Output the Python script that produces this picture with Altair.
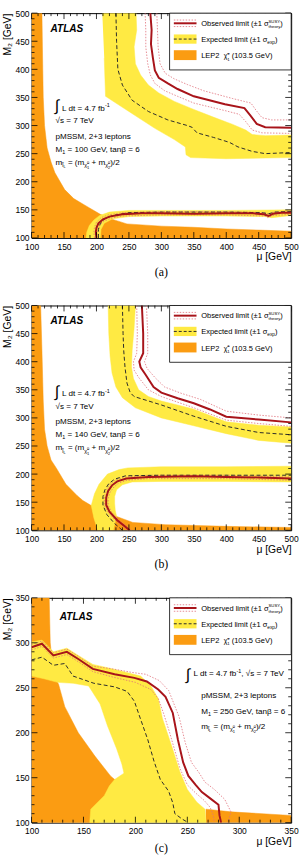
import altair as alt
import pandas as pd

FONT = "Liberation Sans"
ORANGE = "#FB9C12"
YELLOW = "#FFEA43"
RED = "#A8141A"
PINK = "#E0707A"
DASH = "#2b2b2b"

W, H = 263.3, 228.0

# ---------------- (a) M1 = 100 GeV ----------------
A_LEP_MU = [100, 116, 117, 118, 120, 124, 130, 136, 151, 165, 184, 206, 225, 247, 300, 349, 400, 450, 500, 500, 100]
A_LEP_M2 = [500, 500, 420, 350, 300, 260, 235, 216, 186, 170, 157, 142, 133, 125, 121, 119, 116, 114, 112, 100, 100]

A_YEL_UP_MU = [209, 261, 262, 258, 260, 268, 280, 296, 320, 347, 380, 410, 430, 440, 460, 500, 500, 400, 345, 338, 337, 320, 290, 250, 214, 212]
A_YEL_UP_M2 = [500, 500, 470, 440, 410, 390, 372, 358, 343, 330, 315, 302, 292, 284, 282, 283, 243, 241, 243, 248, 262, 275, 295, 325, 352, 420]
A_YEL_LO_MU = [184, 185, 189, 196, 205, 220, 250, 300, 400, 500, 500, 470, 460, 400, 300, 250, 225, 212, 207, 206]
A_YEL_LO_M2 = [100, 110, 122, 132, 140, 146, 149, 149, 149, 150, 140, 136, 138, 139, 139, 138, 134, 126, 115, 100]

A_EXP_UP_MU = [230, 231, 233, 240, 255, 280, 310, 340, 347, 355, 380, 405, 418, 440, 460, 500]
A_EXP_UP_M2 = [500, 450, 400, 372, 345, 325, 310, 300, 297, 287, 279, 270, 262, 254, 250, 252]
A_EXP_LO_MU = [203, 203, 206, 213, 225, 250, 300, 400, 455, 465, 475, 500]
A_EXP_LO_M2 = [100, 115, 126, 134, 140, 145, 146, 146, 145, 143, 146, 147]

A_OBS_UP_MU = [283, 285, 284, 287, 290, 296, 310, 325, 350, 398, 428, 437, 447, 460, 500]
A_OBS_UP_M2 = [500, 470, 445, 420, 398, 385, 375, 365, 352, 338, 331, 318, 303, 297, 296]
A_OBS_LO_MU = [200, 199, 200, 203, 210, 220, 240, 270, 300, 350, 400, 440, 458, 465, 472, 485, 500]
A_OBS_LO_M2 = [100, 110, 118, 126, 133, 138, 142, 144, 144, 143, 144, 144, 142, 139, 143, 145, 145]

A_THP_UP_MU = [293, 294, 295, 298, 306, 320, 340, 365, 410, 438, 446, 455, 470, 500]
A_THP_UP_M2 = [500, 470, 440, 410, 393, 383, 373, 362, 348, 340, 327, 314, 310, 310]
A_THM_UP_MU = [275, 276, 276, 279, 283, 290, 305, 325, 350, 400, 420, 430, 440, 455, 500]
A_THM_UP_M2 = [500, 470, 440, 410, 390, 375, 362, 352, 340, 326, 320, 307, 292, 287, 286]
A_THP_LO_MU = [197, 196, 197, 200, 207, 218, 240, 300, 400, 460, 466, 472, 500]
A_THP_LO_M2 = [100, 110, 119, 128, 136, 141, 145, 147, 147, 145, 142, 146, 148]
A_THM_LO_MU = [203, 202, 203, 206, 212, 222, 240, 300, 400, 460, 464, 472, 500]
A_THM_LO_M2 = [100, 110, 117, 124, 130, 135, 139, 141, 141, 139, 136, 140, 142]

# ---------------- (b) M1 = 140 GeV ----------------
B_LEP_MU = [100, 114, 116, 118, 120, 124, 130, 138, 153, 170, 179, 192, 215, 230, 256, 306, 400, 500, 500, 100]
B_LEP_M2 = [500, 500, 420, 330, 280, 250, 225, 211, 182, 162, 153, 144, 133, 125, 114, 110, 107, 105, 100, 100]

B_YEL_UP_MU = [218, 219, 221, 224, 230, 240, 260, 300, 350, 400, 450, 500, 500, 450, 400, 349, 300, 280, 265, 257, 254, 255, 258, 260]
B_YEL_UP_M2 = [500, 450, 410, 380, 355, 336, 318, 300, 286, 272, 260, 255, 284, 287, 293, 316, 330, 338, 350, 370, 390, 420, 460, 500]
B_YEL_LO_MU = [202, 196, 192, 197, 204, 217, 235, 248, 300, 400, 500, 500, 400, 300, 255, 240, 231, 228, 228, 229, 231, 229, 226]
B_YEL_LO_M2 = [100, 122, 144, 165, 182, 200, 208, 211, 213, 213, 214, 186, 187, 187, 186, 181, 172, 160, 148, 135, 125, 115, 100]

B_EXP_UP_MU = [240, 241, 242, 244, 247, 252, 258, 300, 350, 400, 450, 500]
B_EXP_UP_M2 = [500, 450, 420, 390, 362, 345, 338, 323, 303, 285, 274, 270]
B_EXP_LO_MU = [240, 228, 216, 210, 210, 213, 219, 228, 245, 300, 400, 500]
B_EXP_LO_M2 = [100, 112, 128, 145, 160, 172, 183, 191, 197, 198, 198, 198]

B_OBS_UP_MU = [270, 272, 272, 266, 268, 275, 288, 300, 325, 350, 375, 400, 450, 500]
B_OBS_UP_M2 = [500, 450, 415, 400, 390, 378, 355, 345, 335, 326, 315, 302, 297, 292]
B_OBS_LO_MU = [251, 245, 232, 220, 215, 215, 218, 224, 232, 246, 280, 350, 400, 450, 500]
B_OBS_LO_M2 = [100, 106, 118, 133, 145, 158, 170, 180, 187, 192, 195, 196, 195, 194, 192]

B_THP_UP_MU = [277, 279, 279, 274, 278, 290, 305, 330, 360, 400, 450, 500]
B_THP_UP_M2 = [500, 450, 415, 400, 388, 372, 355, 344, 333, 312, 305, 300]
B_THM_UP_MU = [262, 263, 262, 257, 258, 265, 280, 300, 350, 400, 450, 500]
B_THM_UP_M2 = [500, 450, 415, 400, 385, 372, 350, 338, 318, 296, 290, 285]
B_THP_LO_MU = [248, 242, 229, 217, 212, 212, 215, 221, 230, 245, 280, 400, 500]
B_THP_LO_M2 = [100, 106, 118, 133, 145, 158, 171, 182, 190, 195, 198, 198, 195]
B_THM_LO_MU = [254, 248, 235, 223, 218, 218, 221, 227, 234, 247, 280, 400, 500]
B_THM_LO_M2 = [100, 106, 118, 133, 145, 157, 168, 177, 184, 189, 192, 192, 189]

# ---------------- (c) M1 = 250 GeV ----------------
C_LEP_MU = [100, 117, 118, 120, 124, 126, 132, 145, 161, 176, 182, 180, 170, 165, 100]
C_LEP_M2 = [350, 350, 300, 278, 258, 254, 229, 200, 174, 152, 146, 130, 115, 100, 100]
C_LEP2_MU = [268, 268, 292, 350, 350]
C_LEP2_M2 = [100, 115, 112, 108, 100]

C_YEL_MU = [100, 110, 121, 134, 145, 159, 178, 205, 215, 222, 226, 235, 243, 250, 259, 267, 268, 156, 157,
            170, 175, 180, 189, 187, 182, 173, 166, 155, 140, 125, 112, 100]
C_YEL_M2 = [301, 303, 290, 294, 286, 276, 271, 263, 252, 238, 216, 185, 156, 137, 123, 115, 100, 100, 115,
            130, 141, 148, 155, 165, 182, 208, 232, 252, 255, 256, 260, 263]

C_EXP_MU = [100, 110, 121, 132, 140, 160, 180, 192, 199, 205, 212, 218, 224, 232, 236, 238, 245, 251]
C_EXP_M2 = [281, 284, 275, 277, 263, 255, 251, 246, 235, 215, 192, 168, 148, 135, 122, 110, 104, 100]

C_OBS_MU = [100, 110, 121, 134, 145, 159, 180, 199, 211, 222, 229, 236, 241, 246, 251, 258, 264, 272, 280, 281, 282.5]
C_OBS_M2 = [295, 299, 286, 290, 282, 271, 265, 261, 257, 248, 240, 222, 192, 167, 152, 142, 134, 127, 120, 108, 100]

C_THP_MU = [100, 110, 121, 134, 145, 159, 178, 197, 210, 223, 232, 242, 248, 254, 261, 267, 276, 286, 292, 289]
C_THP_M2 = [298, 302, 289, 293, 285, 274, 271, 267, 265, 258, 247, 218, 189, 167, 156, 145, 137, 126, 112, 100]
C_THM_MU = [100, 110, 121, 134, 145, 159, 178, 200, 215, 222, 227, 233, 238, 243, 250, 258, 266, 272, 275, 276]
C_THM_M2 = [292, 296, 283, 287, 279, 268, 262, 256, 248, 238, 222, 200, 180, 160, 142, 133, 125, 117, 108, 100]


# glyph advance widths (per 1000 em) for laying out composed labels
ADV = {" ": 278, "(": 333, ")": 333, "+": 584, "=": 584, "/": 278, ".": 278, ",": 278, "±": 584, "-": 333,
       "a": 556, "b": 556, "c": 500, "d": 556, "e": 556, "f": 278, "g": 556, "h": 556, "i": 222, "l": 222,
       "m": 833, "n": 556, "o": 556, "p": 556, "r": 333, "s": 500, "t": 278, "u": 556, "v": 500, "x": 500,
       "y": 500, "A": 667, "D": 722, "E": 667, "G": 778, "L": 556, "M": 833, "O": 778, "P": 667, "S": 667,
       "T": 611, "U": 722, "V": 667, "Y": 667, "σ": 572, "χ": 520, "β": 556, "√": 549, "∫": 274, "\u0303": 0}


def text_width(s, size):
    return sum(ADV.get(c, 556) for c in s) * size / 1000.0


def runs(x, y, parts):
    """Lay out text pieces (text, size, dy, advance) left to right from pixel (x, y).
    Leading/trailing blanks are turned into offsets, since SVG text drops them."""
    rows = []
    for p in parts:
        t, s = p[0], p[1]
        dy = p[2] if len(p) > 2 else 0
        adv = p[3] if len(p) > 3 else True
        lead = len(t) - len(t.lstrip(" "))
        rows.append({"x": x + text_width(t[:lead], s), "y": y + dy, "t": t.strip(" "), "s": s})
        if adv:
            x += text_width(t, s)
    return rows


def poly_df(*shapes):
    rows = []
    for g, (xs, ys) in enumerate(shapes):
        for i, (x, y) in enumerate(zip(xs, ys)):
            rows.append({"g": g, "i": i, "mu": x, "m2": y})
    return pd.DataFrame(rows)


ONE = pd.DataFrame({"k": [0]})


def mass_line(x0, y, big=8.2, sub=5.5, tiny=4.0):
    return runs(x0, y, [("m", big), ("l\u0303", sub, 2.2), ("L", tiny, 3.5), (" = (m", big),
                        ("χ\u0303", sub, 2.2), ("0", tiny, -0.8, False), ("1", tiny, 4.2), (" + m", big),
                        ("χ\u0303", sub, 2.2), ("0", tiny, -0.8, False), ("2", tiny, 4.2), (")/2", big)])


def legend_rows():
    rows = []
    rows += runs(172, 12.9, [("Observed limit (±1 σ", 7.6), ("SUSY", 4.3, -3.2, False), ("theory", 4.3, 2.2), (")", 7.6)])
    rows += runs(172, 29.2, [("Expected limit (±1 σ", 7.6), ("exp", 4.8, 2.0), (")", 7.6)])
    rows += runs(172, 45.9, [("LEP2  ", 7.6), ("χ\u0303", 7.0), ("±", 4.3, -3.6, False), ("1", 4.3, 2.2),
                             (" (103.5 GeV)", 7.6)])
    return rows


def legend_marks():
    box = alt.Chart(ONE).mark_rect(fill="white", stroke="black", strokeWidth=0.8).encode(
        x=alt.value(140), x2=alt.value(W), y=alt.value(0), y2=alt.value(57.6))
    sx, sx2 = 144.3, 167.3
    obs = alt.Chart(ONE).mark_rule(color=RED, strokeWidth=2).encode(
        x=alt.value(sx), x2=alt.value(sx2), y=alt.value(10.3))
    dots = [alt.Chart(ONE).mark_rule(color=PINK, strokeWidth=0.8, strokeDash=[1.5, 1.5]).encode(
        x=alt.value(sx), x2=alt.value(sx2), y=alt.value(v)) for v in (7.0, 13.6)]
    band = alt.Chart(ONE).mark_rect(fill=YELLOW).encode(
        x=alt.value(sx), x2=alt.value(sx2), y=alt.value(21.6), y2=alt.value(31.0))
    dline = alt.Chart(ONE).mark_rule(color=DASH, strokeWidth=1, strokeDash=[3, 2]).encode(
        x=alt.value(sx), x2=alt.value(sx2), y=alt.value(26.3))
    lep = alt.Chart(ONE).mark_rect(fill=ORANGE).encode(
        x=alt.value(sx), x2=alt.value(sx2), y=alt.value(37.6), y2=alt.value(47.6))
    return [box, obs] + dots + [band, dline, lep]


def panel(dom, lep, yel, exp, obs, dots, notes, atlas_xy, caption, cap_y):
    lo, hi = dom
    xs = alt.Scale(domain=[lo, hi], nice=False, zero=False)
    ys = alt.Scale(domain=[lo, hi], nice=False, zero=False)
    major = list(range(lo, hi + 1, 50))
    minor = [v for v in range(lo, hi + 1, 10) if v % 50]
    xaxis = alt.Axis(values=major, ticks=False, domain=False, grid=False, labelFont=FONT, labelFontSize=8.6,
                     labelPadding=4.5, labelFlush=False, labelOverlap=False, labelColor="black",
                     title="μ [GeV]", titleFont=FONT, titleFontSize=10.5, titleFontWeight="normal",
                     titleColor="black", titleAnchor="end", titleAlign="right", titleX=W, titleY=22.3,
                     titleBaseline="alphabetic")
    yaxis = alt.Axis(values=major, ticks=False, domain=False, grid=False, labelFont=FONT, labelFontSize=8.6,
                     labelPadding=2.5, labelFlush=False, labelOverlap=False, labelColor="black",
                     title="M₂ [GeV]", titleFont=FONT, titleFontSize=10.5, titleFontWeight="normal",
                     titleColor="black", titleAngle=270, titleAlign="right", titleBaseline="top",
                     titleX=-29, titleY=0)
    X = alt.X("mu:Q", scale=xs, axis=xaxis)
    Y = alt.Y("m2:Q", scale=ys, axis=yaxis)

    def to_data(rows):
        # pixel layout inside the plot frame -> (mu, M2) coordinates of this panel
        df = pd.DataFrame(rows)
        df["mu"] = lo + df["x"] / W * (hi - lo)
        df["m2"] = hi - df["y"] / H * (hi - lo)
        return df

    def texts(rows, **kw):
        style = dict(align="left", baseline="alphabetic", font=FONT, color="black", clip=False)
        style.update(kw)
        return alt.Chart(to_data(rows)).mark_text(**style).encode(
            x=X, y=Y, text="t:N", size=alt.Size("s:Q", scale=None, legend=None))

    def shape(df, mark):
        return alt.Chart(df).mark_line(**mark).encode(x=X, y=Y, detail="g:N", order="i:Q")

    layers = [
        shape(poly_df(*lep), dict(filled=True, fill=ORANGE, stroke=ORANGE, strokeWidth=0.5, clip=True)),
        shape(poly_df(*yel), dict(filled=True, fill=YELLOW, stroke=YELLOW, strokeWidth=0.5, clip=True)),
        shape(poly_df(*dots), dict(color=PINK, strokeWidth=0.8, strokeDash=[1.5, 1.5], clip=True)),
        shape(poly_df(*exp), dict(color=DASH, strokeWidth=1, strokeDash=[4, 2.5], clip=True)),
        shape(poly_df(*obs), dict(color=RED, strokeWidth=2, clip=True)),
    ]
    # inward ticks on all four sides
    for vals, ln in ((minor, 3), (major, 6)):
        tdf = pd.DataFrame({"mu": vals, "m2": vals})
        base = alt.Chart(tdf).mark_rule(color="black", strokeWidth=0.8)
        layers += [base.encode(x=X, y=alt.value(H), y2=alt.value(H - ln)),
                   base.encode(x=X, y=alt.value(0), y2=alt.value(ln)),
                   base.encode(y=Y, x=alt.value(0), x2=alt.value(ln)),
                   base.encode(y=Y, x=alt.value(W), x2=alt.value(W - ln))]
    layers += legend_marks()
    layers.append(texts(legend_rows() + notes))
    layers.append(texts([{"x": atlas_xy[0], "y": atlas_xy[1], "t": "ATLAS", "s": 10.2}],
                        fontWeight="bold", fontStyle="italic"))
    layers.append(texts([{"x": W / 2, "y": H + cap_y, "t": caption, "s": 12}],
                        align="center", font="Liberation Serif"))
    return alt.layer(*layers).properties(width=W, height=H)


def left_notes(y0, m1):
    rows = []
    rows += runs(23.5, y0 + 3.5, [("∫", 16)])
    rows += runs(31, y0 + 3, [("L dt = 4.7 fb", 8.2), ("-1", 5.5, -3.6)])
    rows += runs(24.3, y0 + 15.6, [("√s = 7 TeV", 8.2)])
    rows += runs(24.3, y0 + 31.3, [("pMSSM, 2+3 leptons", 8.2)])
    rows += runs(24.3, y0 + 44.6, [("M", 8.2), ("1", 5.5, 2.2), (" = %d GeV, tanβ = 6" % m1, 8.2)])
    rows += mass_line(24.3, y0 + 58)
    return rows


notes_a = left_notes(96, 100)
notes_b = left_notes(89, 140)
notes_c = []
notes_c += runs(156.5, 83, [("∫", 16)])
notes_c += runs(164.3, 79.7, [("L dt = 4.7 fb", 8.2), ("-1", 5.5, -3.6), (", ", 8.2), ("√s = 7 TeV", 8.2)])
notes_c += runs(172, 101.4, [("pMSSM, 2+3 leptons", 8.2)])
notes_c += runs(172, 118, [("M", 8.2), ("1", 5.5, 2.2), (" = 250 GeV, tanβ = 6", 8.2)])
notes_c += mass_line(172, 133)

pa = panel((100, 500),
           [(A_LEP_MU, A_LEP_M2)],
           [(A_YEL_UP_MU, A_YEL_UP_M2), (A_YEL_LO_MU, A_YEL_LO_M2)],
           [(A_EXP_UP_MU, A_EXP_UP_M2), (A_EXP_LO_MU, A_EXP_LO_M2)],
           [(A_OBS_UP_MU, A_OBS_UP_M2), (A_OBS_LO_MU, A_OBS_LO_M2)],
           [(A_THP_UP_MU, A_THP_UP_M2), (A_THM_UP_MU, A_THM_UP_M2),
            (A_THP_LO_MU, A_THP_LO_M2), (A_THM_LO_MU, A_THM_LO_M2)],
           notes_a, (19.3, 19.5), "(a)", 38.5)

pb = panel((100, 500),
           [(B_LEP_MU, B_LEP_M2)],
           [(B_YEL_UP_MU, B_YEL_UP_M2), (B_YEL_LO_MU, B_YEL_LO_M2)],
           [(B_EXP_UP_MU, B_EXP_UP_M2), (B_EXP_LO_MU, B_EXP_LO_M2)],
           [(B_OBS_UP_MU, B_OBS_UP_M2), (B_OBS_LO_MU, B_OBS_LO_M2)],
           [(B_THP_UP_MU, B_THP_UP_M2), (B_THM_UP_MU, B_THM_UP_M2),
            (B_THP_LO_MU, B_THP_LO_M2), (B_THM_LO_MU, B_THM_LO_M2)],
           notes_b, (19.3, 19.2), "(b)", 38.5)

pc = panel((100, 350),
           [(C_LEP_MU, C_LEP_M2), (C_LEP2_MU, C_LEP2_M2)],
           [(C_YEL_MU, C_YEL_M2)],
           [(C_EXP_MU, C_EXP_M2)],
           [(C_OBS_MU, C_OBS_M2)],
           [(C_THP_MU, C_THP_M2), (C_THM_MU, C_THM_M2)],
           notes_c, (28.6, 22.0), "(c)", 29.5)

chart = (alt.vconcat(pa, pb, pc, spacing=68.5, bounds="flush")
         .properties(padding={"left": 2, "top": 2.2, "right": 4, "bottom": 4}, background="white")
         .configure_view(stroke="black", strokeWidth=1))

chart.save("out.html", embed_options={"renderer": "svg", "actions": False})
